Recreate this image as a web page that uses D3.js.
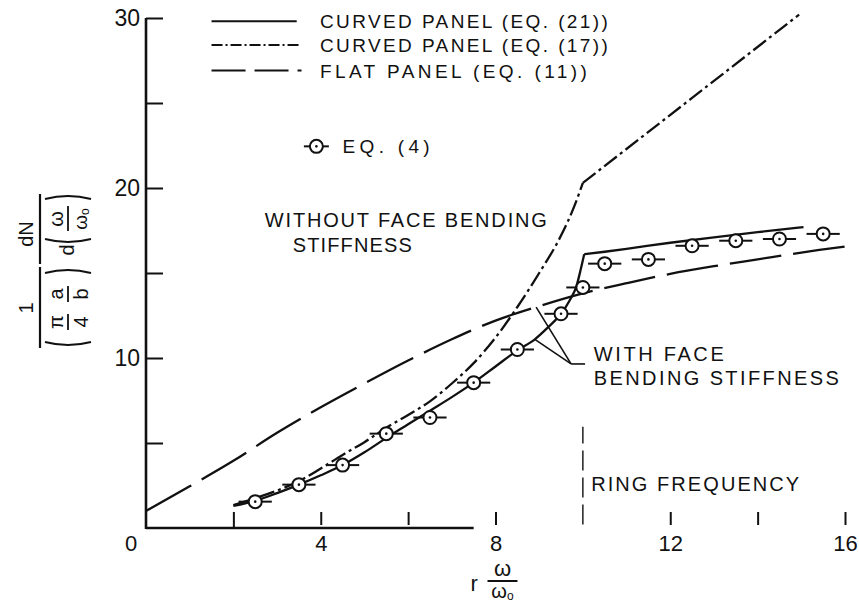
<!DOCTYPE html>
<html>
<head>
<meta charset="utf-8">
<script src="https://cdn.jsdelivr.net/npm/d3@7"></script>
<style>
  html, body { margin: 0; padding: 0; background: #fff; }
  svg { display: block; font-family: "Liberation Sans", Arial, sans-serif; }
</style>
</head>
<body>
<svg id="chart" width="859" height="603"></svg>
<script>
// Curved panel, Eq. (21): below and above the ring frequency
const eq21LowX  = [2.0, 2.5, 3.0, 3.5, 4.0, 4.5, 5.0, 5.5, 6.0, 6.5, 7.0, 7.5, 8.0, 8.5, 8.9, 9.2, 9.5, 9.7, 9.85, 9.95, 10.03];
const eq21LowY  = [1.3, 1.6, 2.05, 2.55, 3.1, 3.7, 4.45, 5.3, 6.1, 6.9, 7.7, 8.55, 9.5, 10.45, 11.1, 11.8, 12.6, 13.4, 14.2, 15.2, 16.1];
const eq21HighX = [10.03, 10.5, 11.0, 12.0, 13.0, 14.0, 15.05];
const eq21HighY = [16.1, 16.25, 16.42, 16.78, 17.1, 17.4, 17.7];

// Curved panel, Eq. (17)
const eq17LowX  = [2.0, 2.5, 3.0, 3.5, 4.0, 4.5, 5.0, 5.5, 6.0, 6.5, 7.0, 7.5, 8.0, 8.5, 9.0, 9.5, 9.8, 10.0];
const eq17LowY  = [1.35, 1.75, 2.2, 2.75, 3.5, 4.3, 5.05, 5.9, 6.65, 7.45, 8.5, 9.7, 11.2, 13.0, 15.0, 17.2, 18.9, 20.3];
const eq17HighX = [10.0, 12.5, 14.95];
const eq17HighY = [20.3, 25.3, 30.2];

// Flat panel, Eq. (11)
const flatX = [0, 1, 2, 3, 4, 5, 6, 7, 8, 9, 10, 11, 12, 13, 14, 15, 16];
const flatY = [1.0, 2.45, 3.95, 5.6, 7.1, 8.5, 9.85, 11.1, 12.2, 13.05, 13.8, 14.4, 14.95, 15.4, 15.8, 16.2, 16.55];

// Eq. (4) points
const eq4X = [2.5, 3.5, 4.5, 5.5, 6.5, 7.5, 8.5, 9.5, 10.0, 10.5, 11.5, 12.5, 13.5, 14.5, 15.5];
const eq4Y = [1.55, 2.55, 3.7, 5.55, 6.5, 8.55, 10.5, 12.6, 14.15, 15.55, 15.8, 16.6, 16.9, 17.0, 17.3];

// Axis ticks
const xTicks = [2, 4, 6, 8, 12, 14, 16];
const xTickLabels = ["", "4", "", "8", "12", "", "16"];
const yTicks = [5, 10, 15, 20, 25, 30];
const yTickLabels = ["", "10", "", "20", "", "30"];

const legendLabels = ["CURVED PANEL (EQ. (21))", "CURVED PANEL (EQ. (17))", "FLAT PANEL (EQ. (11))"];
const ringFrequency = 10;

const svg = d3.select("#chart");
const ink = "#111";
const fontFamily = "Liberation Sans, Arial, sans-serif";

const x = d3.scaleLinear().domain([0, 16]).range([146, 845]);
const y = d3.scaleLinear().domain([0, 30]).range([528, 18]);

const zip = (xs, ys) => xs.map((v, i) => [v, ys[i]]);
const smooth = d3.line().x(d => x(d[0])).y(d => y(d[1])).curve(d3.curveMonotoneX);
const straight = d3.line().x(d => x(d[0])).y(d => y(d[1]));

const styles = {
  eq21: { dash: null, legendDash: null },
  eq17: { dash: "16,4,3,4", legendDash: "11,3,2,3" },
  flat: { dash: "52,12", legendDash: "34,9" }
};

// ---- Axes ----
const yAxis = d3.axisLeft(y)
  .tickValues(yTicks)
  .tickFormat((d, i) => yTickLabels[i])
  .tickSizeInner(-17).tickSizeOuter(0).tickPadding(6);
const yg = svg.append("g").attr("transform", `translate(${x(0)},0)`).call(yAxis);
yg.select(".domain").remove();
yg.selectAll(".tick line").attr("stroke", ink).attr("stroke-width", 2);
yg.selectAll(".tick text").attr("fill", ink).attr("font-size", 23)
  .attr("font-family", fontFamily);

svg.append("line")
  .attr("x1", x(0)).attr("x2", x(0)).attr("y1", y(0) + 1).attr("y2", y(30))
  .attr("stroke", ink).attr("stroke-width", 2.6);

const xAxis = d3.axisBottom(x)
  .tickValues(xTicks)
  .tickFormat((d, i) => xTickLabels[i])
  .tickSizeInner(-16).tickSizeOuter(0).tickPadding(7);
const xg = svg.append("g").attr("transform", `translate(0,${y(0)})`).call(xAxis);
xg.select(".domain").remove();
xg.selectAll(".tick line").attr("stroke", ink).attr("stroke-width", 2)
  .attr("y1", (d) => d === 2 ? 0 : -3);
xg.selectAll(".tick text").attr("fill", ink).attr("font-size", 22)
  .attr("font-family", fontFamily);

// origin label sits at the lower-left corner
svg.append("text")
  .attr("x", x(0) - 15).attr("y", y(0) + 7)
  .attr("dy", "0.71em").attr("text-anchor", "middle")
  .attr("font-size", 22).attr("fill", ink).text("0");

// baseline of the abscissa
svg.append("line")
  .attr("x1", x(0)).attr("x2", x(7.5)).attr("y1", y(0)).attr("y2", y(0))
  .attr("stroke", ink).attr("stroke-width", 2.6);

// ring frequency marker
svg.append("line")
  .attr("x1", x(ringFrequency)).attr("x2", x(ringFrequency))
  .attr("y1", y(0.2)).attr("y2", y(5.95))
  .attr("stroke", ink).attr("stroke-width", 1.4)
  .attr("stroke-dasharray", "20,7");

// ---- Curves ----
function drawCurve(pts, gen, style) {
  svg.append("path")
    .attr("d", gen(pts))
    .attr("fill", "none")
    .attr("stroke", ink)
    .attr("stroke-width", 2.3)
    .attr("stroke-dasharray", style.dash);
}
drawCurve(zip(flatX, flatY), smooth, styles.flat);
drawCurve(zip(eq17LowX, eq17LowY), smooth, styles.eq17);
drawCurve(zip(eq17HighX, eq17HighY), straight, styles.eq17);
drawCurve(zip(eq21LowX, eq21LowY), smooth, styles.eq21);
drawCurve(zip(eq21HighX, eq21HighY), smooth, styles.eq21);

// ---- Eq. (4) markers: circle with centre dot and horizontal band bars ----
const bandHalf = 0.38;
const markerR = 6.5;
function marker(g, cx, cy, half) {
  g.append("line").attr("x1", cx - half).attr("x2", cx - markerR).attr("y1", cy).attr("y2", cy)
    .attr("stroke", ink).attr("stroke-width", 2);
  g.append("line").attr("x1", cx + markerR).attr("x2", cx + half).attr("y1", cy).attr("y2", cy)
    .attr("stroke", ink).attr("stroke-width", 2);
  g.append("circle").attr("cx", cx).attr("cy", cy).attr("r", markerR)
    .attr("fill", "#fff").attr("stroke", ink).attr("stroke-width", 2);
  g.append("circle").attr("cx", cx).attr("cy", cy).attr("r", 1.3).attr("fill", ink);
}
const mg = svg.append("g");
zip(eq4X, eq4Y).forEach(([vx, vy]) => {
  const half = x(vx + bandHalf) - x(vx);
  marker(mg, x(vx), y(vy), half);
});

// ---- Text helper (position in data units, baseline-left) ----
function label(text, vx, vy, width, size = 20) {
  const t = svg.append("text")
    .attr("x", x(vx)).attr("y", y(vy))
    .attr("font-size", size).attr("fill", ink)
    .text(text);
  if (width) t.attr("textLength", width).attr("lengthAdjust", "spacing");
  return t;
}

// ---- Legend ----
const legendRows = [29.4, 28.0, 26.5];
const legendStyles = [styles.eq21, styles.eq17, styles.flat];
const legendWidths = [288, 288, 267];
legendRows.forEach((ry, i) => {
  svg.append("line")
    .attr("x1", x(1.5)).attr("x2", x(i === 0 ? 3.45 : 3.56))
    .attr("y1", y(ry) - 7).attr("y2", y(ry) - 7)
    .attr("stroke", ink).attr("stroke-width", 2)
    .attr("stroke-dasharray", legendStyles[i].legendDash);
  label(legendLabels[i], 3.98, ry, legendWidths[i], 19);
});
marker(svg.append("g"), x(3.9), y(22.45), 12.5);
label("EQ. (4)", 4.5, 22.05, 87, 19);

// ---- Annotations ----
label("WITHOUT FACE BENDING", 2.72, 17.7, 282);
label("STIFFNESS", 3.36, 16.24, 119);
label("WITH FACE", 10.25, 9.82, 130);
label("BENDING STIFFNESS", 10.25, 8.41, 245);
label("RING FREQUENCY", 10.19, 2.18, 208);

// leader lines to the curves with face bending stiffness
const apex = [9.73, 9.65];
[[8.93, 12.99], [8.90, 11.1]].forEach(p => {
  svg.append("line")
    .attr("x1", x(apex[0])).attr("y1", y(apex[1]))
    .attr("x2", x(p[0])).attr("y2", y(p[1]))
    .attr("stroke", ink).attr("stroke-width", 1.6);
});
svg.append("line")
  .attr("x1", x(apex[0])).attr("y1", y(apex[1]))
  .attr("x2", x(10.05)).attr("y2", y(apex[1]))
  .attr("stroke", ink).attr("stroke-width", 1.6);

// ---- Abscissa title: r ω/ω0 ----
const xt = svg.append("g").attr("transform", `translate(${x(8)},0)`);
xt.append("text").attr("x", -25).attr("y", 591).attr("font-size", 22).attr("fill", ink).text("r");
xt.append("text").attr("x", 7).attr("y", 576).attr("text-anchor", "middle")
  .attr("font-size", 22).attr("fill", ink).text("ω");
xt.append("line").attr("x1", -8).attr("x2", 22).attr("y1", 581).attr("y2", 581)
  .attr("stroke", ink).attr("stroke-width", 2);
const w0 = xt.append("text").attr("x", 7).attr("y", 598).attr("text-anchor", "middle")
  .attr("font-size", 20).attr("fill", ink);
w0.append("tspan").text("ω");
w0.append("tspan").attr("font-size", 12).attr("dy", 2).text("o");

// ---- Ordinate title: 1/((π/4)(a/b)) · dN/d(ω/ω0), rotated ----
const yt = svg.append("g").attr("transform", "translate(40,270) rotate(-90)");
function paren(g, u, w0v, w1v, open) {
  const bulge = open ? -6 : 6;
  g.append("path")
    .attr("d", `M${u},${w0v} Q${u + bulge},${(w0v + w1v) / 2} ${u},${w1v}`)
    .attr("fill", "none").attr("stroke", ink).attr("stroke-width", 2);
}
function ttext(g, s, u, w, size = 20) {
  return g.append("text").attr("x", u).attr("y", w).attr("text-anchor", "middle")
    .attr("font-size", size).attr("fill", ink).text(s);
}
// first fraction
yt.append("line").attr("x1", -78).attr("x2", 3).attr("y1", 0).attr("y2", 0)
  .attr("stroke", ink).attr("stroke-width", 2.2);
ttext(yt, "1", -38, -7);
paren(yt, -72, 5, 51, true);
ttext(yt, "π", -52, 23);
yt.append("line").attr("x1", -60).attr("x2", -44).attr("y1", 28).attr("y2", 28)
  .attr("stroke", ink).attr("stroke-width", 1.8);
ttext(yt, "4", -52, 48);
ttext(yt, "a", -24, 23);
yt.append("line").attr("x1", -32).attr("x2", -16).attr("y1", 28).attr("y2", 28)
  .attr("stroke", ink).attr("stroke-width", 1.8);
ttext(yt, "b", -24, 48);
paren(yt, -3, 5, 51, false);
// second fraction
yt.append("line").attr("x1", 6).attr("x2", 76).attr("y1", 0).attr("y2", 0)
  .attr("stroke", ink).attr("stroke-width", 2.2);
ttext(yt, "dN", 36, -7);
ttext(yt, "d", 20, 34);
paren(yt, 31, 5, 51, true);
ttext(yt, "ω", 51, 23);
yt.append("line").attr("x1", 39).attr("x2", 64).attr("y1", 28).attr("y2", 28)
  .attr("stroke", ink).attr("stroke-width", 1.8);
const yw0 = yt.append("text").attr("x", 51).attr("y", 47).attr("text-anchor", "middle")
  .attr("font-size", 19).attr("fill", ink);
yw0.append("tspan").text("ω");
yw0.append("tspan").attr("font-size", 12).attr("dy", 2).text("o");
paren(yt, 71, 5, 51, false);
</script>
</body>
</html>
